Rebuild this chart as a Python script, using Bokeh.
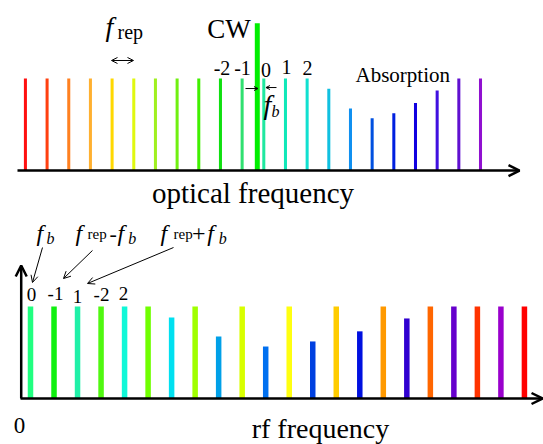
from bokeh.plotting import figure
from bokeh.models import Range1d, Arrow, OpenHead
from bokeh.core.properties import value
from bokeh.embed import file_html
from bokeh.resources import INLINE

# ---------------- data ----------------
# optical comb: mode numbers and relative intensities
comb_modes = [-11, -10, -9, -8, -7, -6, -5, -4, -3, -2, -1, 0, 1, 2, 3, 4, 5, 6, 7, 8, 9, 10]
comb_heights = [1, 1, 1, 1, 1, 1, 1, 1, 1, 1, 1, 1, 1, 1,
                0.89, 0.675, 0.567, 0.622, 0.735, 0.87, 1, 1]
cw_position = -0.3     # in units of f_rep relative to mode 0
cw_height = 1.6
top_labels = ["-2", "-1", "0", "1", "2"]

# rf beat notes: order of beat notes and their intensities
rf_index = [0, 1, 2, 3, 4, 5, 6, 7, 8, 9, 10, 11, 12, 13, 14, 15, 16, 17, 18, 19, 20, 21]
rf_modes = [0, -1, 1, -2, 2, -3, 3, -4, 4, -5, 5, -6, 6, -7, 7, -8, 8, -9, 9, -10, 10, -11]
rf_heights = [1, 1, 1, 1, 1, 1, 0.88, 1, 0.674, 1, 0.565, 1, 0.62, 1, 0.73, 1, 0.87, 1, 1, 1, 1, 1]
rf_labels = ["0", "-1", "1", "-2", "2"]

# ---------------- styles ----------------
comb_colors = ["#ff1010", "#ff4010", "#ff8020", "#ffb030", "#ffd800", "#e0f810",
               "#a0f020", "#70f010", "#40f000", "#10e010", "#30e070", "#20e8a0",
               "#10e8b8", "#10e0d0", "#10c0e0", "#1090f0", "#0050e0", "#0020e0",
               "#1000e0", "#4010e0", "#6010d0", "#9010d0"]
rf_colors = ["#20ff80", "#10f010", "#20f0a8", "#50f810", "#10f8d8", "#70ff00",
             "#00e0f0", "#a0ff00", "#00a0e8", "#d8ff00", "#0070f0", "#ffff10",
             "#0040e0", "#ffcc00", "#0010e0", "#ff9900", "#3000d0", "#ff6600",
             "#6600cc", "#ff3300", "#9900cc", "#ff0000"]
SERIF = value("Liberation Serif")

p = figure(width=543, height=444, output_backend="svg", toolbar_location=None,
           x_range=Range1d(-12.15, 12.907), y_range=Range1d(-2.978, 1.848),
           x_axis_location=None, y_axis_location=None, min_border=0,
           outline_line_color=None, background_fill_color="white")
p.grid.visible = False
p.extra_x_ranges = {"bx": Range1d(-1.2755, 21.811)}
p.extra_y_ranges = {"by": Range1d(-0.5, 4.326)}

# ---------------- top panel: optical comb ----------------
p.vbar(x=comb_modes, top=comb_heights, bottom=0, width=0.14,
       fill_color=comb_colors, line_color=None)
p.vbar(x=[cw_position], top=[cw_height], bottom=0, width=0.23,
       fill_color="#00ee00", line_color=None)

p.add_layout(Arrow(end=OpenHead(size=11, line_width=2.5), x_start=-11.366, y_start=0,
                   x_end=11.80, y_end=0, line_width=2.5))

p.text(x=[-1.606], y=[1.533], text=["CW"], text_font=SERIF, text_font_size="27px",
       text_align="center", text_baseline="alphabetic")
p.text(x=[-7.305], y=[1.565], text=["f"], text_font=SERIF, text_font_size="28px",
       text_font_style="italic", text_baseline="alphabetic")
p.text(x=[-6.751], y=[1.511], text=["rep"], text_font=SERIF, text_font_size="20px",
       text_baseline="alphabetic")
p.add_layout(Arrow(start=OpenHead(size=6, line_width=1), end=OpenHead(size=6, line_width=1),
                   x_start=-7.028, y_start=1.196, x_end=-6.013, y_end=1.196, line_width=1))
p.text(x=[-1.93, -0.983, 0.10, 1.048, 2.017], y=[1.119, 1.119, 1.098, 1.130, 1.109],
       text=top_labels, text_font=SERIF, text_font_size="20px",
       text_align="center", text_baseline="alphabetic")
p.add_layout(Arrow(end=OpenHead(size=4, line_width=1), x_start=-0.845, y_start=0.891,
                   x_end=-0.268, y_end=0.891, line_width=1))
p.add_layout(Arrow(end=OpenHead(size=4, line_width=1), x_start=0.586, y_start=0.902,
                   x_end=0.10, y_end=0.902, line_width=1))
p.text(x=[-0.014], y=[0.717], text=["f"], text_font=SERIF, text_font_size="28px",
       text_font_style="italic", text_baseline="alphabetic")
p.text(x=[0.355], y=[0.641], text=["b"], text_font=SERIF, text_font_size="16px",
       text_font_style="italic", text_baseline="alphabetic")
p.text(x=[4.232], y=[1.043], text=["Absorption"], text_font=SERIF, text_font_size="21px",
       text_baseline="alphabetic")
p.text(x=[-0.498], y=[-0.239], text=["optical frequency"], text_font=SERIF,
       text_font_size="29px", text_align="center", text_baseline="alphabetic")

# ---------------- bottom panel: rf beat notes ----------------
BX = dict(x_range_name="bx", y_range_name="by")
p.vbar(x=rf_index, top=rf_heights, bottom=0, width=0.234,
       fill_color=rf_colors, line_color=None, **BX)

p.add_layout(Arrow(end=OpenHead(size=11, line_width=2.5), x_start=-0.425, y_start=0,
                   x_end=21.77, y_end=0, line_width=2.5, **BX))
p.add_layout(Arrow(end=OpenHead(size=11, line_width=2.5), x_start=-0.395, y_start=0,
                   x_end=-0.395, y_end=1.446, line_width=2.5, **BX))

p.text(x=[0.043, 1.063, 2.0, 3.019, 3.954], y=[1.130, 1.141, 1.109, 1.130, 1.141],
       text=rf_labels, text_font=SERIF, text_font_size="19px",
       text_align="center", text_baseline="alphabetic", **BX)

# f_b, f_rep - f_b, f_rep + f_b
p.text(x=[0.255, 1.913, 3.699, 5.527, 7.52], y=[1.804, 1.804, 1.804, 1.804, 1.804],
       text=["f", "f", "f", "f", "f"], text_font=SERIF, text_font_size="24px",
       text_font_style="italic", text_baseline="alphabetic", **BX)
p.text(x=[0.68, 4.16, 8.0], y=[1.739, 1.739, 1.739], text=["b", "b", "b"],
       text_font=SERIF, text_font_size="16px", text_font_style="italic",
       text_baseline="alphabetic", **BX)
p.text(x=[2.423, 6.080], y=[1.783, 1.783], text=["rep", "rep"], text_font=SERIF,
       text_font_size="15px", text_baseline="alphabetic", **BX)
p.text(x=[3.359], y=[1.793], text=["-"], text_font=SERIF, text_font_size="22px",
       text_baseline="alphabetic", **BX)
p.text(x=[6.87], y=[1.793], text=["+"], text_font=SERIF, text_font_size="24px",
       text_baseline="alphabetic", **BX)

for xs, ys, xe, ye in [(0.510, 1.641, 0.085, 1.261),
                       (2.636, 1.609, 1.403, 1.304),
                       (6.080, 1.641, 2.423, 1.25)]:
    p.add_layout(Arrow(end=OpenHead(size=7, line_width=1), x_start=xs, y_start=ys,
                       x_end=xe, y_end=ye, line_width=1, **BX))

p.text(x=[-0.468], y=[-0.294], text=["0"], text_font=SERIF, text_font_size="23px",
       text_align="center", text_baseline="alphabetic", **BX)
p.text(x=[12.33], y=[-0.33], text=["rf frequency"], text_font=SERIF,
       text_font_size="28px", text_align="center", text_baseline="alphabetic", **BX)

open("out.html", "w").write(file_html(p, INLINE))
